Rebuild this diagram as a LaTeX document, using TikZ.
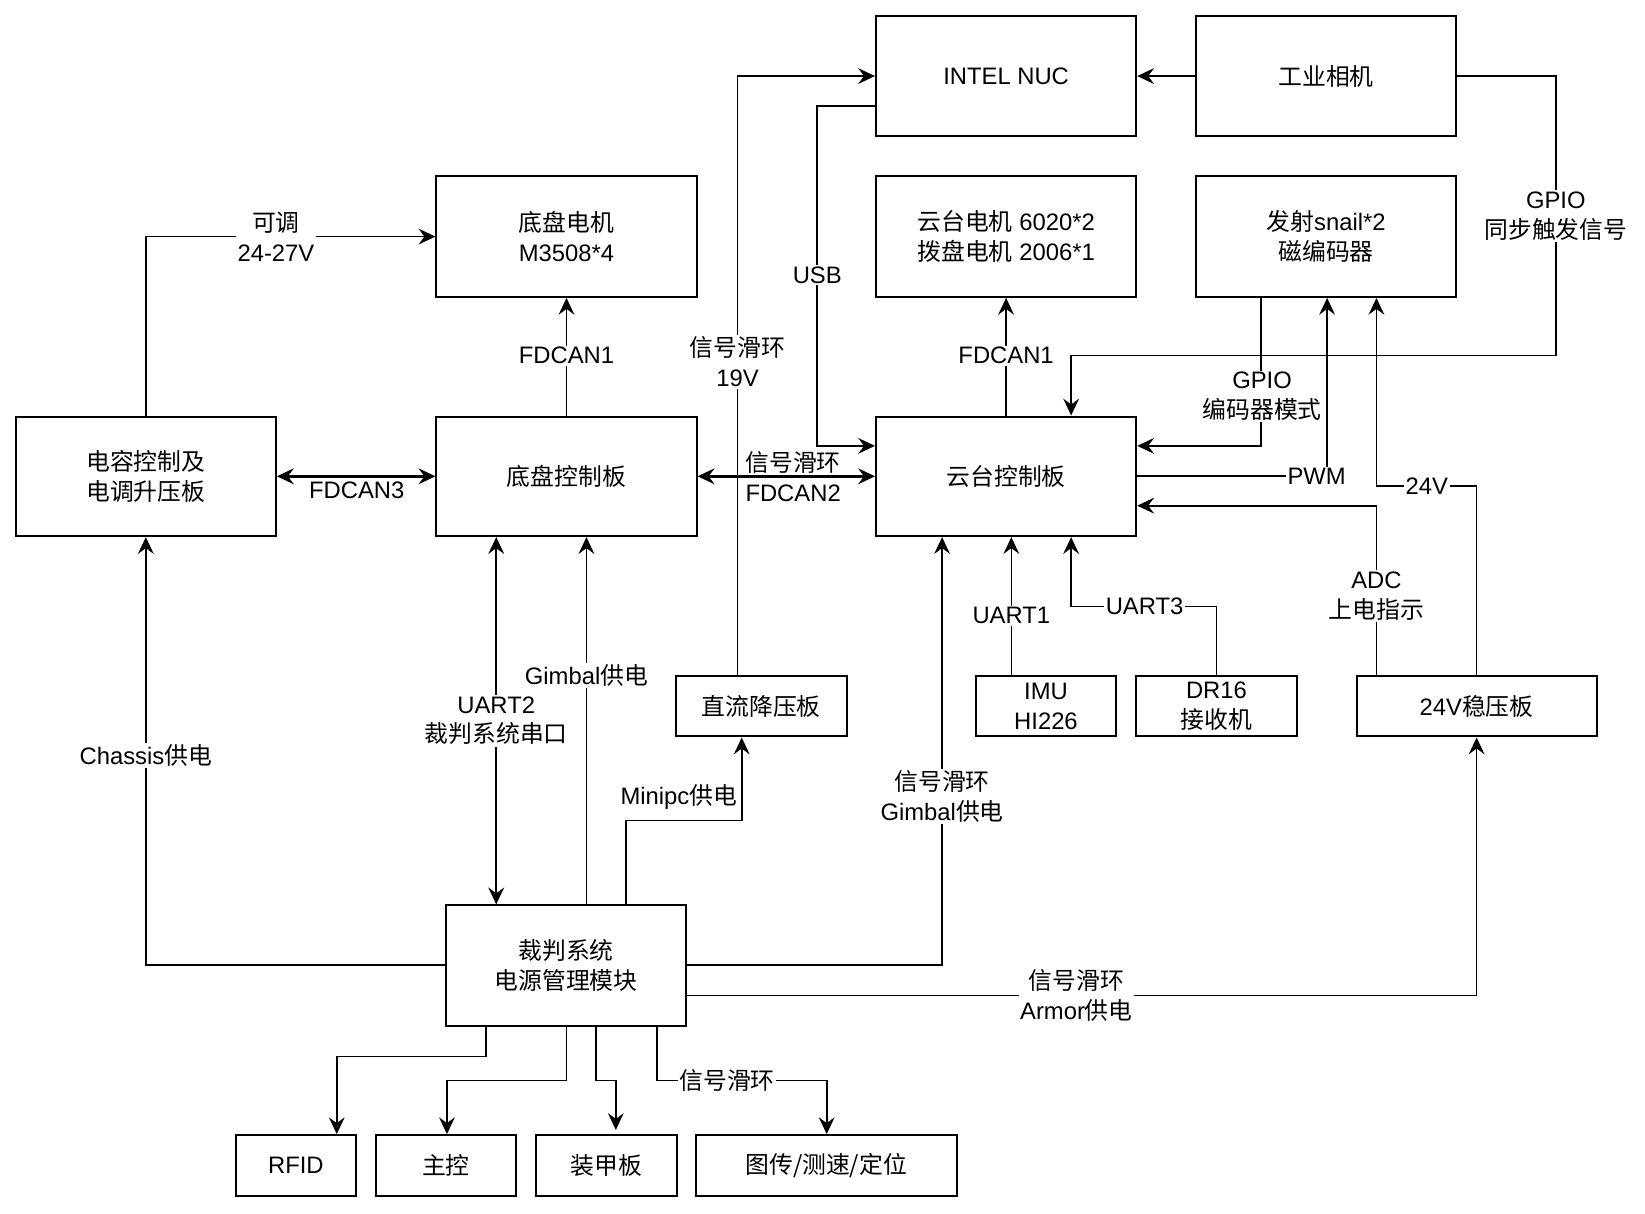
\documentclass[tikz,border=0pt]{standalone}
\usepackage{fontspec}
\setmainfont{Liberation Sans}
\newfontfamily\cjk{Noto Sans CJK SC}
\newcommand\zh[1]{{\cjk #1}}
\newcommand\dfont{\fontsize{22.7pt}{28.5pt}\selectfont}
\usetikzlibrary{arrows.meta,calc}
\tikzset{
  box/.style 2 args={draw,line width=1.9pt,minimum width=#1,minimum height=#2,inner sep=0pt,align=center,font=\dfont},
  lbl/.style={fill=white,inner sep=1.5pt,align=center,font=\dfont},
  plbl/.style={inner sep=1.5pt,align=center,font=\dfont},
  tip/.tip={Stealth[length=16pt,width=15pt,inset=5.5pt]},
  arr/.style={line width=1.6pt,-tip},
  barr/.style={line width=2.4pt,tip-tip},
}
\begin{document}
\begin{tikzpicture}[x=1pt,y=-1pt]
\fill[white] (0,0) rectangle (1568,1157);
\useasboundingbox (0,0) rectangle (1568,1157);
% boxes
\node[box={248pt}{115pt}] (nuc) at (959,72.5) {INTEL NUC};
\node[box={248pt}{115pt}] (cam) at (1264,72.5) {\zh{工业相机}};
\node[box={248pt}{115pt}] (cm) at (540,225.5) {\zh{底盘电机}\\M3508*4};
\node[box={248pt}{115pt}] (gm) at (959,225.5) {\zh{云台电机} 6020*2\\\zh{拨盘电机} 2006*1};
\node[box={248pt}{115pt}] (sn) at (1264,225.5) {\zh{发射}snail*2\\\zh{磁编码器}};
\node[box={248pt}{114pt}] (cap) at (139,454) {\zh{电容控制及}\\\zh{电调升压板}};
\node[box={248pt}{114pt}] (cb) at (540,454) {\zh{底盘控制板}};
\node[box={248pt}{114pt}] (gb) at (959,454) {\zh{云台控制板}};
\node[box={163pt}{58pt}] (dc) at (725.5,673) {\zh{直流降压板}};
\node[box={134pt}{58pt}] (imu) at (997,673) {IMU\\HI226};
\node[box={153pt}{58pt}] (dr) at (1159.5,673) {DR16\\\zh{接收机}};
\node[box={229pt}{58pt}] (reg) at (1407.5,673) {24V\zh{稳压板}};
\node[box={229pt}{115pt}] (ref) at (539.5,920.5) {\zh{裁判系统}\\\zh{电源管理模块}};
\node[box={114pt}{58pt}] (rfid) at (282,1111) {RFID};
\node[box={134pt}{58pt}] (mc) at (425,1111) {\zh{主控}};
\node[box={134pt}{58pt}] (arm) at (578,1111) {\zh{装甲板}};
\node[box={249pt}{58pt}] (vt) at (787.5,1111) {\zh{图传/测速/定位}};
% connectors
\draw[arr] (cap.north) |- (cm.west);
\draw[arr] (cb.north) -- (cm.south);
\draw[barr] (cap.east) -- (cb.west);
\draw[barr] (cb.east) -- (gb.west);
\draw[arr] (dc.north -| 703,0) |- (nuc.west);
\draw[arr] (nuc.west |- 0,101) -- (779,101) -- (779,425) -- (gb.west |- 0,425);
\draw[arr] (cam.west) -- (nuc.east);
\draw[arr] (cam.east) -- (1483,72.5) -- (1483,339) -- (1021,339) -- (gb.north -| 1021,0);
\draw[arr] (gb.north) -- (gm.south);
\draw[arr] (sn.south -| 1202,0) |- (gb.east |- 0,425);
\draw[arr] (gb.east) -| (sn.south -| 1265,0);
\draw[arr] (reg.north) |- (1312,463) -- (sn.south -| 1312,0);
\draw[arr] (reg.north -| 1312,0) |- (gb.east |- 0,482);
\draw[arr] (imu.north -| 964,0) -- (gb.south -| 964,0);
\draw[arr] (dr.north) |- (1021,578) -- (gb.south -| 1021,0);
\draw[arr] (ref.east |- 0,920) -| (gb.south -| 898,0);
\draw[arr] (ref.east |- 0,949) -| (reg.south);
\draw[arr] (ref.north -| 597,0) |- (707,782) -- (dc.south -| 707,0);
\draw[arr] (ref.north -| 559,0) -- (cb.south -| 559,0);
\draw[barr] (ref.north -| 473,0) -- (cb.south -| 473,0);
\draw[arr] (ref.west |- 0,920) -| (cap.south);
\draw[arr] (ref.south -| 463,0) |- (321,1007) -- (rfid.north -| 321,0);
\draw[arr] (ref.south -| 540,0) |- (426,1030) -- (mc.north -| 426,0);
\draw[arr] (ref.south -| 568,0) |- (587,1030) -- ([yshift=4pt]arm.north -| 587,0);
\draw[arr] (ref.south -| 626,0) |- (788,1030) -- (vt.north -| 788,0);
% labels
\node[lbl] (l1) at (263,225.5) {\zh{可调}\\24-27V};
\node[lbl] (l2) at (540,339) {FDCAN1};
\node[plbl] (l3) at (340,467) {FDCAN3};
\node[plbl] (l4) at (756,454) {\zh{信号滑环}\\FDCAN2};
\node[lbl] (l5) at (703,345) {\zh{信号滑环}\\19V};
\node[lbl] (l6) at (779,262) {USB};
\node[lbl] (l7) at (1483,206) {GPIO\\\zh{同步触发信号}};
\node[lbl] (l8) at (959,339) {FDCAN1};
\node[lbl] (l9) at (1203,378) {GPIO\\\zh{编码器模式}};
\node[lbl] (l10) at (1255,454) {PWM};
\node[lbl] (l11) at (1360,463) {24V};
\node[lbl] (l12) at (1312,568) {ADC\\\zh{上电指示}};
\node[lbl] (l13) at (964,587) {UART1};
\node[lbl] (l14) at (1091,578) {UART3};
\node[lbl] (l15) at (898,759) {\zh{信号滑环}\\Gimbal\zh{供电}};
\node[lbl] (l16) at (1026,949) {\zh{信号滑环}\\Armor\zh{供电}};
\node[plbl] (l17) at (647,760) {Minipc\zh{供电}};
\node[lbl] (l18) at (559,644) {Gimbal\zh{供电}};
\node[lbl] (l19) at (473,687) {UART2\\\zh{裁判系统串口}};
\node[lbl] (l20) at (139,720) {Chassis\zh{供电}};
\node[lbl] (l21) at (693,1030) {\zh{信号滑环}};
\end{tikzpicture}
\end{document}
